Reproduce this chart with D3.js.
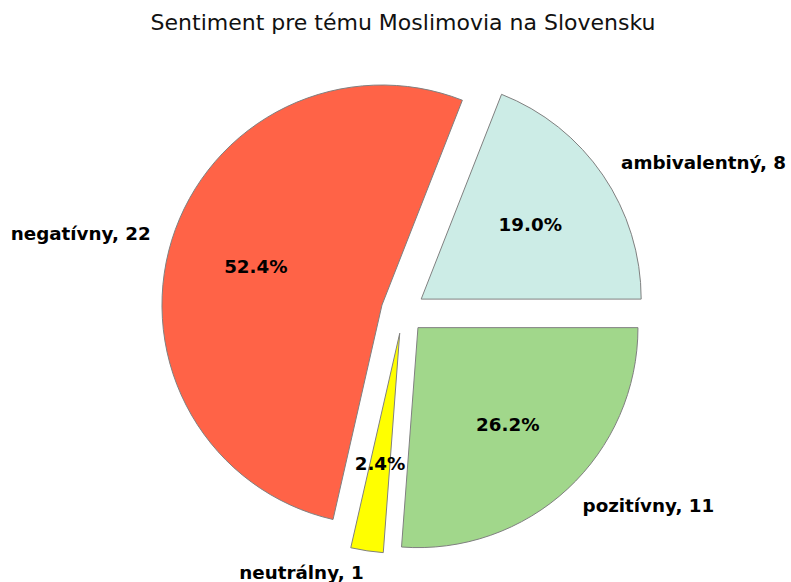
<!DOCTYPE html>
<html>
<head>
<meta charset="utf-8">
<script src="https://cdn.jsdelivr.net/npm/d3@7"></script>
<style>
	body {margin:0; background:#fff;}
	text {font-family:"DejaVu Sans", sans-serif;}
</style>
</head>
<body>
<svg width="791" height="582"></svg>
<script>
/*** Data ***/
const labels = ["ambivalentný", "negatívny", "neutrálny", "pozitívny"]
const counts = [8, 22, 1, 11]
const colors = ["#ccece6", "#ff6347", "#ffff00", "#a1d78b"]
const title  = "Sentiment pre tému Moslimovia na Slovensku"

/*** Setup ***/
const W = 791, H = 582
const CX = 403, CY = 311.5, R = 220
const EXPLODE = 0.1
const FONT = 18.3

var svg = d3.select("svg")

svg.append("text")
	.attr("x", CX)
	.attr("y", 22)
	.attr("text-anchor", "middle")
	.attr("dominant-baseline", "central")
	.attr("font-size", 22)
	.attr("fill", "#111")
	.text(title)

// matplotlib-like: start at 3 o'clock, go counterclockwise
var pie = d3.pie().sort(null).startAngle(Math.PI/2).endAngle(Math.PI/2 - 2*Math.PI)
var arc = d3.arc().innerRadius(0).outerRadius(R)
var total = d3.sum(counts)
var arcs = pie(counts)

function dir(d) {
	var a = (d.startAngle + d.endAngle) / 2
	return [Math.sin(a), -Math.cos(a)]
}

var g = svg.append("g").attr("transform", "translate("+CX+","+CY+")")

var slice = g.selectAll("g.slice")
	.data(arcs)
	.enter()
	.append("g")
	.attr("class", "slice")
	.attr("transform", function(d) {
		var v = dir(d)
		return "translate("+(v[0]*EXPLODE*R)+","+(v[1]*EXPLODE*R)+")"
	})

slice.append("path")
	.attr("d", arc)
	.attr("fill", function(d,i) {return colors[i]})
	.attr("stroke", "#808080")
	.attr("stroke-width", 1)

slice.append("text")
	.attr("x", function(d) {return dir(d)[0]*R*1.1})
	.attr("y", function(d) {return dir(d)[1]*R*1.1})
	.attr("text-anchor", function(d) {return dir(d)[0] > 0 ? "start" : "end"})
	.attr("dominant-baseline", "central")
	.attr("font-size", FONT)
	.attr("font-weight", "bold")
	.text(function(d,i) {return labels[i]+", "+counts[i]})

slice.append("text")
	.attr("x", function(d) {return dir(d)[0]*R*0.6})
	.attr("y", function(d) {return dir(d)[1]*R*0.6})
	.attr("text-anchor", "middle")
	.attr("dominant-baseline", "central")
	.attr("font-size", FONT)
	.attr("font-weight", "bold")
	.text(function(d,i) {return (counts[i]/total*100).toFixed(1)+"%"})
</script>
</body>
</html>
